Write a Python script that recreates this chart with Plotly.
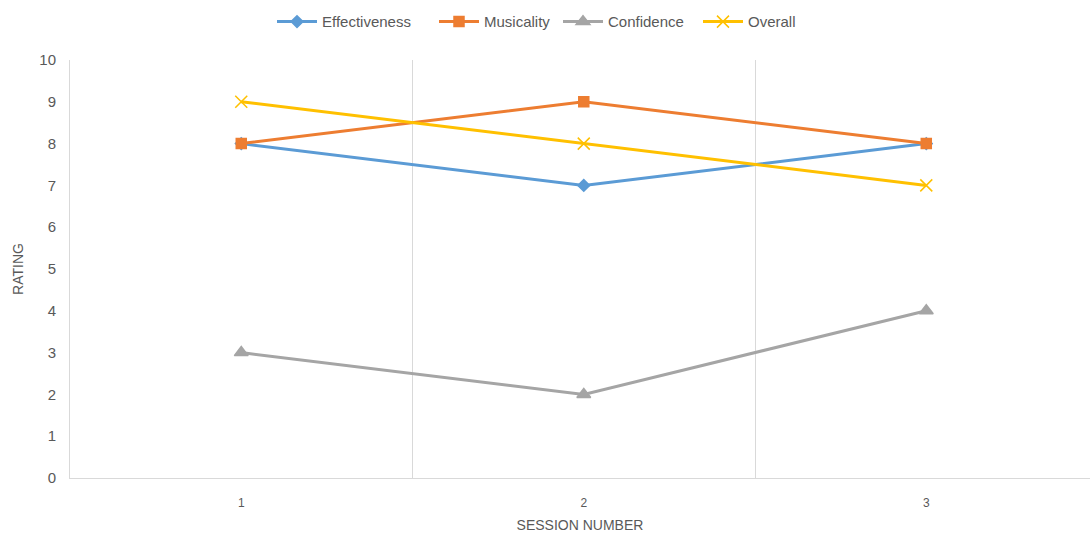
import plotly.graph_objects as go

sessions = [1, 2, 3]
effectiveness = [8, 7, 8]
musicality = [8, 9, 8]
confidence = [3, 2, 4]
overall = [9, 8, 7]

series = [
    ("Effectiveness", effectiveness, "#5B9BD5", "diamond", 9),
    ("Musicality", musicality, "#ED7D31", "square", 10),
    ("Confidence", confidence, "#A5A5A5", "triangle-up", 12),
    ("Overall", overall, "#FFC000", "x-thin", 12),
]
# each legend entry gets its own box so the spacing can be set per entry
legend_ids = ["legend", "legend2", "legend3", "legend4"]
legend_x = [272, 434, 558, 698]

font_family = "Liberation Sans, Arial, sans-serif"
text_color = "#595959"

fig = go.Figure()
for (name, vals, color, sym, size), lid in zip(series, legend_ids):
    fig.add_trace(go.Scatter(
        x=sessions, y=vals, name=name, mode="lines+markers",
        legend=lid,
        line=dict(color=color, width=3),
        marker=dict(symbol=sym, size=size, color=color,
                    line=dict(color=color, width=1.5)),
    ))

legend_layout = {}
for lid, lx in zip(legend_ids, legend_x):
    legend_layout[lid] = dict(
        orientation="h", xref="container", yref="container",
        x=lx / 1090, xanchor="left", y=0.99, yanchor="top",
        font=dict(size=15, color=text_color), itemwidth=40,
        bgcolor="rgba(0,0,0,0)",
    )

fig.update_layout(
    width=1090, height=536,
    margin=dict(l=70, r=0, t=60, b=58),
    paper_bgcolor="white", plot_bgcolor="white",
    font=dict(family=font_family, color=text_color, size=13),
    showlegend=True,
    xaxis=dict(
        range=[0.5, 3.478], tickmode="array", tickvals=sessions,
        ticktext=[str(s) for s in sessions], showgrid=False,
        ticks="", tickfont=dict(size=12, color=text_color),
        ticklabelstandoff=14,
        showline=True, linecolor="#D9D9D9", linewidth=1,
        zeroline=False,
        minor=dict(tickmode="array", tickvals=[1.5, 2.5], showgrid=True,
                   gridcolor="#D9D9D9", gridwidth=1, ticks=""),
        title=dict(text="SESSION NUMBER", font=dict(size=14, color=text_color),
                   standoff=10),
    ),
    yaxis=dict(
        range=[0, 10], tickmode="linear", dtick=1, showgrid=False,
        zeroline=False, ticks="", ticklabelstandoff=10,
        showline=True, linecolor="#D9D9D9", linewidth=1,
        tickfont=dict(size=15, color=text_color),
        title=dict(text="RATING", font=dict(size=14, color=text_color),
                   standoff=12),
    ),
    **legend_layout,
)

fig.write_html("out.html")
